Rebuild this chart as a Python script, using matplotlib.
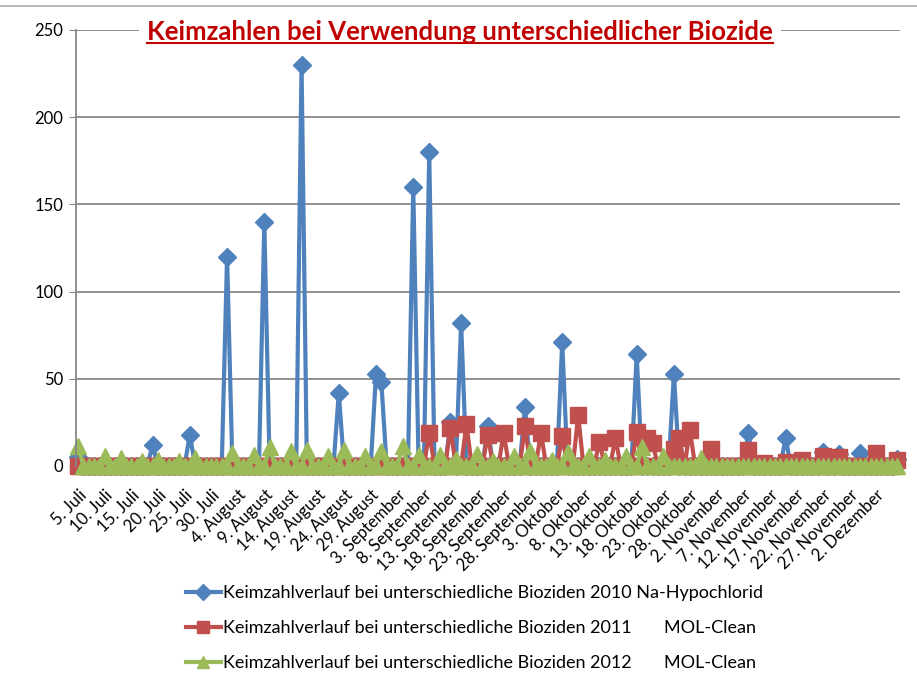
import numpy as np
import pandas as pd
import matplotlib
matplotlib.use("Agg")
import matplotlib.pyplot as plt
from matplotlib.lines import Line2D

plt.rcParams['font.family'] = ['Lato', 'DejaVu Sans']

# daily series from 5. Juli on (all other days = 0)
n_days = 155
start = "2012-07-05"

blue_days = [0, 14, 21, 28, 35, 42, 49, 56, 57, 63, 66, 70, 72, 77, 84, 91,
             105, 112, 126, 133, 140, 143, 147, 154]
blue_vals = [5, 12, 18, 120, 140, 230, 42, 53, 48, 160, 180, 25, 82, 23, 34, 71,
             64, 53, 19, 16, 8, 7, 7.5, 4]

red_days = [66, 70, 73, 77, 80, 84, 87, 91, 94, 98, 101, 105, 107, 108, 112, 113,
            115, 119, 126, 129, 133, 136, 140, 143, 150, 154]
red_vals = [19, 22, 24, 18, 19, 23, 19, 17, 29, 14, 16, 19.5, 16, 13, 9.5, 16,
            20.5, 9.5, 9, 1.5, 2.5, 3.5, 6, 5, 7.5, 3.5]

green_days = [0, 5, 8, 12, 15, 19, 22, 29, 33, 36, 40, 43, 47, 50, 54, 57, 61,
              64, 68, 71, 75, 78, 82, 85, 89, 92, 96, 99, 103, 106, 110, 117]
green_vals = [11.5, 5.6, 4.6, 2.8, 3.6, 2.8, 4.6, 7.5, 6.5, 10.7, 8.4, 9.4, 5.6,
              9, 5.6, 8.4, 11.3, 6.5, 6.5, 4.2, 7, 2.8, 5.6, 8.4, 3.7, 8, 5.6,
              3.7, 5.6, 10.7, 5.6, 4.6]

labels = ["Keimzahlverlauf bei unterschiedliche Bioziden 2010 Na-Hypochlorid",
          "Keimzahlverlauf bei unterschiedliche Bioziden 2011       MOL-Clean",
          "Keimzahlverlauf bei unterschiedliche Bioziden 2012       MOL-Clean"]
monate = {7: "Juli", 8: "August", 9: "September", 10: "Oktober",
          11: "November", 12: "Dezember"}


def series(days, vals):
    s = np.zeros(n_days)
    s[days] = vals
    return s


x = np.arange(n_days)
dates = pd.date_range(start, periods=n_days)

fig = plt.figure(figsize=(9.17, 6.86), dpi=100)
ax = fig.add_axes([76/917, 220/686, (900-76)/917, (466-30)/686])

styles = [(blue_days, blue_vals, "#4F81BD", "D", 9.5),
          (red_days, red_vals, "#C0504D", "s", 11),
          (green_days, green_vals, "#9BBB59", "^", 12)]
for (d, v, c, m, ms), lab in zip(styles, labels):
    ax.plot(x, series(d, v), color=c, lw=3, marker=m, ms=ms, mec=c,
            label=lab, clip_on=False)

ax.set_xlim(-0.4, 154.5)
ax.set_ylim(0, 250)
ax.set_yticks(range(0, 251, 50))
ax.yaxis.grid(True, color="#888888", lw=1.3)
ax.set_axisbelow(True)
for sp in ["top", "right", "bottom"]:
    ax.spines[sp].set_visible(False)
ax.spines["left"].set_color("#888888")
ax.spines["left"].set_linewidth(1.3)
ax.tick_params(axis="y", length=5, color="#888888", labelsize=12, pad=4)

ticks = x[::5]
ax.set_xticks(ticks)
ax.set_xticklabels([f"{dates[i].day}. {monate[dates[i].month]}" for i in ticks],
                   rotation=45, ha="right", rotation_mode="anchor", fontsize=12)
ax.tick_params(axis="x", length=0, pad=15)

leg = fig.legend(loc="upper left", bbox_to_anchor=(170/917, 1 - 569/686),
                 frameon=False, fontsize=13, handlelength=1.9,
                 handletextpad=0.15, labelspacing=1.05)
for h in leg.legend_handles:
    h.set_markersize(8)

title = fig.text(460/917, 1 - 32/686,
                 "Keimzahlen bei Verwendung unterschiedlicher Biozide",
                 ha="center", va="center", fontsize=18.5, fontweight="bold",
                 color="#C00000", zorder=5,
                 bbox=dict(facecolor="white", edgecolor="none", pad=6))
fig.canvas.draw()
bb = title.get_window_extent(renderer=fig.canvas.get_renderer())
inv = fig.transFigure.inverted()
(x0, y0), (x1, y1) = inv.transform([[bb.x0, bb.y0], [bb.x1, bb.y1]])
fig.add_artist(Line2D([x0, x1], [y0 + 0.001, y0 + 0.001], color="#C00000",
                      lw=1.5, transform=fig.transFigure, zorder=10))
fig.add_artist(Line2D([0, 1], [1 - 6/686, 1 - 6/686], color="#BBBBBB",
                      lw=1.5, transform=fig.transFigure))

fig.savefig("out.png", dpi=100)
